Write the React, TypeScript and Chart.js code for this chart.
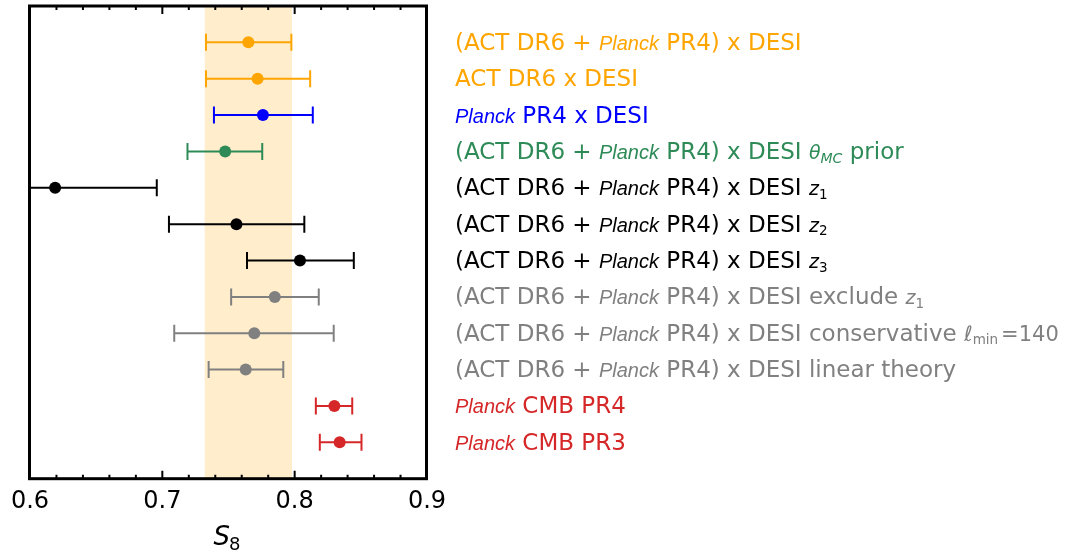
import React, { useEffect, useRef } from "react";
import { Chart, registerables } from "chart.js";

Chart.register(...registerables);

// ---- data ----
const centers = [0.765, 0.772, 0.776, 0.7475, 0.619, 0.756, 0.804, 0.785, 0.7695, 0.763, 0.830, 0.834];
const lowers = [0.733, 0.733, 0.739, 0.719, 0.54, 0.705, 0.764, 0.752, 0.709, 0.735, 0.816, 0.819];
const uppers = [0.7975, 0.8117, 0.8137, 0.7755, 0.6958, 0.8073, 0.8447, 0.8182, 0.8295, 0.7914, 0.8435, 0.8505];
const rowColors = [
  "#FFA500", "#FFA500", "#0000FF", "#2E8B57",
  "#000000", "#000000", "#000000",
  "#808080", "#808080", "#808080",
  "#D62728", "#D62728",
];
const bandRange = [0.732, 0.798];
const xTicks = [0.6, 0.7, 0.8, 0.9];
const xMinorStep = 0.02;

// label segments: [role, text]
// roles: r = regular, i = italic name, m = math italic, s = subscript, si = italic subscript, l = ell, e = math upright
type Seg = [string, string];
const PL: Seg = ["i", "Planck"];
const labels: Seg[][] = [
  [["r", "(ACT DR6 + "], PL, ["r", " PR4) x DESI"]],
  [["r", "ACT DR6 x DESI"]],
  [PL, ["r", " PR4 x DESI"]],
  [["r", "(ACT DR6 + "], PL, ["r", " PR4) x DESI "], ["m", "θ"], ["si", "MC"], ["r", " prior"]],
  [["r", "(ACT DR6 + "], PL, ["r", " PR4) x DESI "], ["m", "z"], ["s", "1"]],
  [["r", "(ACT DR6 + "], PL, ["r", " PR4) x DESI "], ["m", "z"], ["s", "2"]],
  [["r", "(ACT DR6 + "], PL, ["r", " PR4) x DESI "], ["m", "z"], ["s", "3"]],
  [["r", "(ACT DR6 + "], PL, ["r", " PR4) x DESI exclude "], ["m", "z"], ["s", "1"]],
  [["r", "(ACT DR6 + "], PL, ["r", " PR4) x DESI conservative "], ["l", "ℓ"], ["s", "min"], ["e", "=140"]],
  [["r", "(ACT DR6 + "], PL, ["r", " PR4) x DESI linear theory"]],
  [PL, ["r", " CMB PR4"]],
  [PL, ["r", " CMB PR3"]],
];
const xTitleMain = "S";
const xTitleSub = "8";

const FAM = "'DejaVu Sans', sans-serif";
const FAM_IT = "'Liberation Sans', Arial, sans-serif";

const roleFont: Record<string, { size: number; italic: boolean; dy: number; fam: string; gap: number }> = {
  r: { size: 23, italic: false, dy: 0, fam: FAM, gap: 0 },
  i: { size: 20, italic: true, dy: 0, fam: FAM_IT, gap: 0 },
  m: { size: 19, italic: true, dy: 0, fam: FAM, gap: 0 },
  s: { size: 13.5, italic: false, dy: 3.5, fam: FAM, gap: 0 },
  si: { size: 14, italic: true, dy: 4, fam: FAM, gap: 0 },
  l: { size: 21, italic: true, dy: 0, fam: FAM, gap: 0 },
  e: { size: 21, italic: false, dy: 0, fam: FAM, gap: 3 },
};

export default function App() {
  const ref = useRef<HTMLCanvasElement>(null);

  useEffect(() => {
    document.body.style.margin = "0";
    const canvas = ref.current;
    if (!canvas) return;
    const n = centers.length;
    const pts = centers.map((c, i) => ({ x: c, y: n - i }));

    const deco = {
      id: "deco",
      beforeDatasetsDraw(chart: any) {
        const { ctx, chartArea: a, scales } = chart;
        const x = scales.x, y = scales.y;
        ctx.save();
        const bx0 = x.getPixelForValue(bandRange[0]);
        const bx1 = x.getPixelForValue(bandRange[1]);
        ctx.fillStyle = "#FFEDCC";
        ctx.fillRect(bx0, a.top, bx1 - bx0, a.bottom - a.top);
        ctx.beginPath();
        ctx.rect(a.left, a.top, a.right - a.left, a.bottom - a.top);
        ctx.clip();
        ctx.lineWidth = 2;
        for (let i = 0; i < n; i++) {
          const py = y.getPixelForValue(pts[i].y);
          const x0 = x.getPixelForValue(lowers[i]);
          const x1 = x.getPixelForValue(uppers[i]);
          ctx.strokeStyle = rowColors[i];
          ctx.beginPath();
          ctx.moveTo(x0, py); ctx.lineTo(x1, py);
          ctx.moveTo(x0, py - 8.5); ctx.lineTo(x0, py + 8.5);
          ctx.moveTo(x1, py - 8.5); ctx.lineTo(x1, py + 8.5);
          ctx.stroke();
        }
        ctx.restore();
      },
      afterDatasetsDraw(chart: any) {
        const { ctx, chartArea: a, scales } = chart;
        const x = scales.x, y = scales.y;
        ctx.save();
        // ticks (inward, top & bottom)
        ctx.strokeStyle = "#000";
        ctx.lineWidth = 2;
        ctx.beginPath();
        const lo = xTicks[0], hi = xTicks[xTicks.length - 1];
        const nMinor = Math.round((hi - lo) / xMinorStep);
        for (let k = 0; k <= nMinor; k++) {
          const v = lo + k * xMinorStep;
          const isMajor = xTicks.some((t) => Math.abs(t - v) < 1e-6);
          const len = isMajor ? 8 : 4;
          const px = x.getPixelForValue(v);
          ctx.moveTo(px, a.bottom); ctx.lineTo(px, a.bottom - len);
          ctx.moveTo(px, a.top); ctx.lineTo(px, a.top + len);
        }
        ctx.stroke();
        // frame
        ctx.lineWidth = 3;
        ctx.strokeRect(a.left - 0.5, a.top, a.right - a.left, a.bottom - a.top);

        // x title S_8
        const fMain = `italic 26px ${FAM}`;
        const fSub = `18px ${FAM}`;
        ctx.font = fMain;
        const wM = ctx.measureText(xTitleMain).width;
        ctx.font = fSub;
        const wS = ctx.measureText(xTitleSub).width;
        const cx = (a.left + a.right) / 2;
        const sx = cx - (wM + wS) / 2 - 1;
        ctx.fillStyle = "#000";
        ctx.textBaseline = "alphabetic";
        ctx.textAlign = "left";
        ctx.font = fMain;
        ctx.fillText(xTitleMain, sx, 545);
        ctx.font = fSub;
        ctx.fillText(xTitleSub, sx + wM - 1, 550);

        // right-hand labels
        for (let i = 0; i < n; i++) {
          const py = y.getPixelForValue(pts[i].y);
          let tx = 455;
          const base = py + 7.5;
          ctx.fillStyle = rowColors[i];
          for (const [role, text] of labels[i]) {
            const f = roleFont[role];
            tx += f.gap;
            ctx.font = `${f.italic ? "italic " : ""}${f.size}px ${f.fam}`;
            ctx.fillText(text, tx, base + f.dy);
            tx += ctx.measureText(text).width;
          }
        }
        ctx.restore();
      },
    };

    const chart = new Chart(canvas, {
      type: "scatter",
      data: {
        datasets: [
          {
            data: pts,
            pointBackgroundColor: rowColors,
            pointBorderColor: rowColors,
            pointBorderWidth: 0,
            pointRadius: 6,
            pointHoverRadius: 6,
          },
        ],
      },
      options: {
        animation: false,
        responsive: true,
        maintainAspectRatio: false,
        events: [],
        layout: { padding: { left: 30, right: 639, top: 5, bottom: 29.5 } },
        plugins: { legend: { display: false }, tooltip: { enabled: false } },
        scales: {
          x: {
            type: "linear",
            min: xTicks[0],
            max: xTicks[xTicks.length - 1],
            afterBuildTicks: (s: any) => {
              s.ticks = xTicks.map((v) => ({ value: v }));
            },
            grid: { display: false, drawTicks: false },
            border: { display: false },
            ticks: {
              padding: 9,
              color: "#000",
              font: { family: FAM, size: 24 },
              callback: (v: any) => Number(v).toFixed(1),
            },
          },
          y: {
            type: "linear",
            min: 0,
            max: n + 1,
            display: false,
          },
        },
      },
      plugins: [deco],
    });
    return () => chart.destroy();
  }, []);

  return (
    <div style={{ position: "fixed", left: 0, top: 0, width: 1066, height: 555, background: "#fff" }}>
      <canvas ref={ref} />
    </div>
  );
}
